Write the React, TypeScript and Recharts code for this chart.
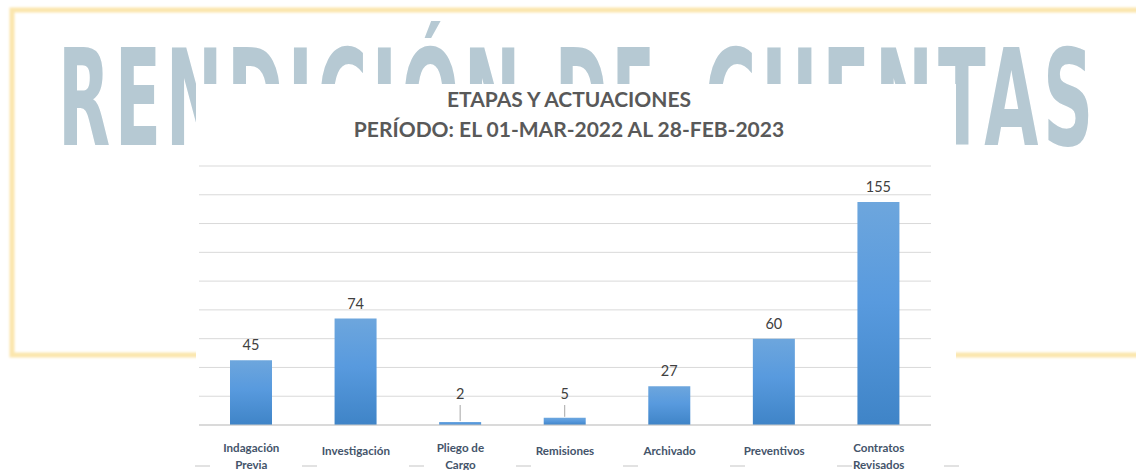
import React from "react";
import { BarChart, Bar, XAxis, YAxis, CartesianGrid, LabelList } from "recharts";

const categories = [
  "Indagación Previa",
  "Investigación",
  "Pliego de Cargo",
  "Remisiones",
  "Archivado",
  "Preventivos",
  "Contratos Revisados",
];
const tickLines: string[][] = [
  ["Indagación", "Previa"],
  ["Investigación"],
  ["Pliego de", "Cargo"],
  ["Remisiones"],
  ["Archivado"],
  ["Preventivos"],
  ["Contratos", "Revisados"],
];
const values = [45, 74, 2, 5, 27, 60, 155];
const yTicks = [0, 20, 40, 60, 80, 100, 120, 140, 160, 180];
const titleLines = ["ETAPAS Y ACTUACIONES", "PERÍODO: EL 01-MAR-2022 AL 28-FEB-2023"];
const backgroundWords = ["RENDICIÓN", "DE", "CUENTAS"];

const data = categories.map((c, i) => ({ name: c, value: values[i], idx: i }));

const FONT = "Lato, 'Open Sans', sans-serif";

const XTick = (props: any) => {
  const { x, payload } = props;
  const idx = categories.indexOf(payload.value);
  const lines = tickLines[idx] || [payload.value];
  const ys = lines.length === 1 ? [455] : [452, 469];
  return (
    <g>
      {lines.map((l, i) => (
        <text
          key={i}
          x={x}
          y={ys[i]}
          textAnchor="middle"
          fontFamily={FONT}
          fontWeight={700}
          fontSize={11.6}
          fill="#44546a"
        >
          {l}
        </text>
      ))}
    </g>
  );
};

const ValueLabel = (props: any) => {
  const { x, y, width, height, value } = props;
  const cx = x + width / 2;
  const base = y + height;
  if (value < 10) {
    const cy = base - 31;
    return (
      <g>
        <text x={cx} y={cy + 5} textAnchor="middle" fontFamily={FONT} fontSize={14.5} fill="#404040">
          {value}
        </text>
        <line x1={cx} x2={cx} y1={cy + 11} y2={y - 1} stroke="#a6a6a6" strokeWidth={1} />
      </g>
    );
  }
  const cy = y - 15;
  return (
    <text x={cx} y={cy + 5} textAnchor="middle" fontFamily={FONT} fontSize={14.5} fill="#404040">
      {value}
    </text>
  );
};

const wordBoxes = [
  { x: 58, w: 467 },
  { x: 555, w: 104 },
  { x: 705, w: 393 },
];

export default function App() {
  return (
    <div
      style={{
        position: "absolute",
        left: 0,
        top: 0,
        width: 1136,
        height: 470,
        overflow: "hidden",
        background: "#ffffff",
      }}
    >
      <svg width={1136} height={470} style={{ position: "absolute", left: 0, top: 0 }}>
        <defs>
          <filter id="soft" x="-5%" y="-5%" width="110%" height="110%">
            <feGaussianBlur stdDeviation="0.8" />
          </filter>
        </defs>
        <rect
          x={12}
          y={10}
          width={1140}
          height={345}
          fill="none"
          stroke="#fbe6ad"
          strokeWidth={5}
          filter="url(#soft)"
        />
        {backgroundWords.map((w, i) => (
          <text
            key={i}
            x={wordBoxes[i].x}
            y={145}
            fontFamily="'DejaVu Sans Condensed', 'DejaVu Sans', sans-serif"
            fontWeight={700}
            fontSize={133}
            fill="#b6c9d3"
            textLength={wordBoxes[i].w}
            lengthAdjust="spacingAndGlyphs"
            style={{ letterSpacing: "8px" }}
          >
            {w}
          </text>
        ))}
        <rect x={196} y={84} width={760} height={390} fill="#ffffff" />
        <line
          x1={195}
          x2={960}
          y1={466}
          y2={466}
          stroke="#e2e2e2"
          strokeWidth={2}
          strokeDasharray="15 92"
        />
        <text
          x={569}
          y={107}
          textAnchor="middle"
          fontFamily={FONT}
          fontWeight={700}
          fontSize={21}
          fill="#595959"
        >
          {titleLines[0]}
        </text>
        <text
          x={569}
          y={137}
          textAnchor="middle"
          fontFamily={FONT}
          fontWeight={700}
          fontSize={21}
          fill="#595959"
        >
          {titleLines[1]}
        </text>
      </svg>
      <div style={{ position: "absolute", left: 0, top: 0 }}>
        <BarChart
          width={1136}
          height={470}
          data={data}
          margin={{ top: 166, right: 205, bottom: 0, left: 199 }}
        >
          <defs>
            <linearGradient id="barGrad" x1="0" y1="0" x2="0" y2="1">
              <stop offset="0%" stopColor="#6da6dd" />
              <stop offset="45%" stopColor="#589ade" />
              <stop offset="100%" stopColor="#3f84c7" />
            </linearGradient>
          </defs>
          <CartesianGrid vertical={false} stroke="#d9d9d9" />
          <YAxis hide width={0} domain={[0, 180]} ticks={yTicks} />
          <XAxis
            dataKey="name"
            height={45}
            axisLine={{ stroke: "#c8c8c8" }}
            tickLine={false}
            tick={<XTick />}
            interval={0}
          />
          <Bar dataKey="value" fill="url(#barGrad)" barSize={42} isAnimationActive={false}>
            <LabelList dataKey="value" content={<ValueLabel />} />
          </Bar>
        </BarChart>
      </div>
    </div>
  );
}
